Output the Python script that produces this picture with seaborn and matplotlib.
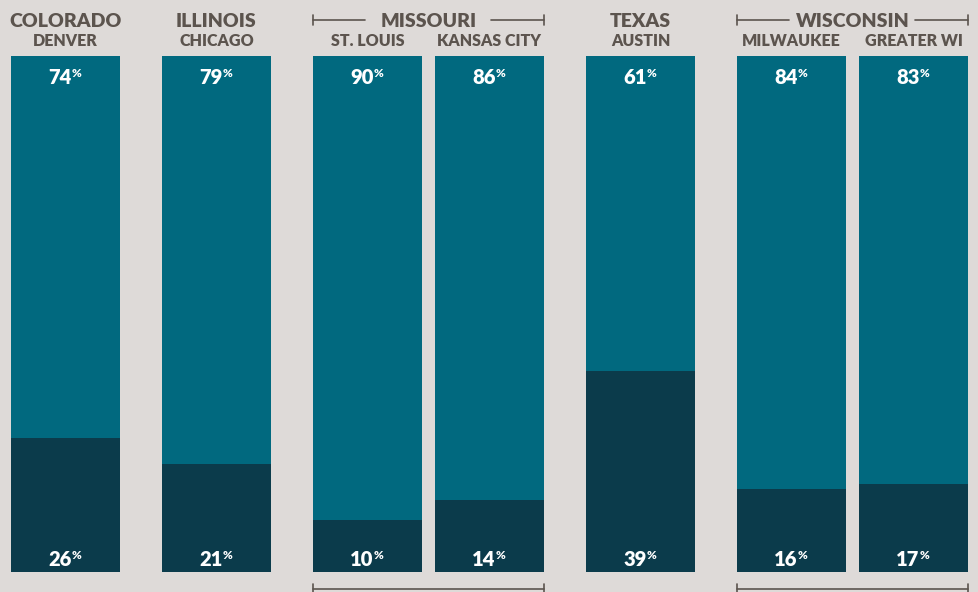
import numpy as np
import pandas as pd
import matplotlib.pyplot as plt
import seaborn as sns

states = ['COLORADO', 'ILLINOIS', 'MISSOURI', 'MISSOURI', 'TEXAS', 'WISCONSIN', 'WISCONSIN']
cities = ['DENVER', 'CHICAGO', 'ST. LOUIS', 'KANSAS CITY', 'AUSTIN', 'MILWAUKEE', 'GREATER WI']
top_share = [74, 79, 90, 86, 61, 84, 83]
bottom_share = [26, 21, 10, 14, 39, 16, 17]

teal = '#01697f'
dark = '#0b3b4b'
ink = '#5c544e'
bg = '#dedad8'

# bar positions: small gap inside a state, larger gap between states
inner_gap, outer_gap = 0.12, 0.385
xs = [0.0]
for i in range(1, len(states)):
    gap = inner_gap if states[i] == states[i - 1] else outer_gap
    xs.append(xs[-1] + 1 + gap)
xs = np.array(xs)

df = pd.DataFrame({'x': xs, 'state': states, 'city': cities,
                   'top': top_share, 'bottom': bottom_share})
df['total'] = df['top'] + df['bottom']

sns.set_style('white')
plt.rcParams['font.family'] = ['Lato', 'DejaVu Sans']
W = 'heavy'

fig = plt.figure(figsize=(9.79, 5.92), dpi=100, facecolor=bg)
ax = fig.add_axes([11 / 979, 20 / 592, 957 / 979, 516 / 592])
ax.set_facecolor(bg)

w = 1 / np.min(np.diff(xs))
sns.barplot(data=df, x='x', y='total', native_scale=True, width=w,
            color=teal, saturation=1, linewidth=0, ax=ax)
sns.barplot(data=df, x='x', y='bottom', native_scale=True, width=w,
            color=dark, saturation=1, linewidth=0, ax=ax)

ax.set_xlim(xs[0] - 0.5, xs[-1] + 0.5)
ax.set_ylim(0, 100)
ax.axis('off')


def pct(x, y, value, dy):
    ax.annotate(f'{value}', (x, y), xytext=(6, dy), textcoords='offset pixels',
                ha='right', va='baseline', color='white', fontsize=14.5,
                fontweight=W, annotation_clip=False)
    ax.annotate('%', (x, y), xytext=(6, dy + 7), textcoords='offset pixels',
                ha='left', va='baseline', color='white', fontsize=8.5,
                fontweight=W, annotation_clip=False)


for _, r in df.iterrows():
    pct(r['x'], 100, r['top'], -28)
    pct(r['x'], 0, r['bottom'], 6)
    ax.annotate(r['city'], (r['x'], 100), xytext=(0, 10), textcoords='offset pixels',
                ha='center', va='baseline', color=ink, fontsize=11.5,
                fontweight=W, annotation_clip=False)

# state headers, with brackets for states with several bars
for st, g in df.groupby('state', sort=False):
    x0, x1 = g['x'].min() - 0.5, g['x'].max() + 0.5
    xc = (g['x'].min() + g['x'].max()) / 2
    ax.annotate(st, (xc, 100), xytext=(0, 29), textcoords='offset pixels',
                ha='center', va='baseline', color=ink, fontsize=14,
                fontweight=W, annotation_clip=False)
    if len(g) > 1:
        half = 63 / 109
        yt = 100 + 36 * 100 / 516
        yb = -17 * 100 / 516
        kw = dict(color=ink, lw=1.2, clip_on=False)
        ax.plot([x0, xc - half], [yt, yt], **kw)
        ax.plot([xc + half, x1], [yt, yt], **kw)
        tk = 5 * 100 / 516
        ax.plot([x0, x0], [yt - tk, yt + tk], **kw)
        ax.plot([x1, x1], [yt - tk, yt + tk], **kw)
        ax.plot([x0, x1], [yb, yb], **kw)
        ax.plot([x0, x0], [yb - tk, yb + tk], **kw)
        ax.plot([x1, x1], [yb - tk, yb + tk], **kw)

fig.savefig('out.png', dpi=100, facecolor=bg)
